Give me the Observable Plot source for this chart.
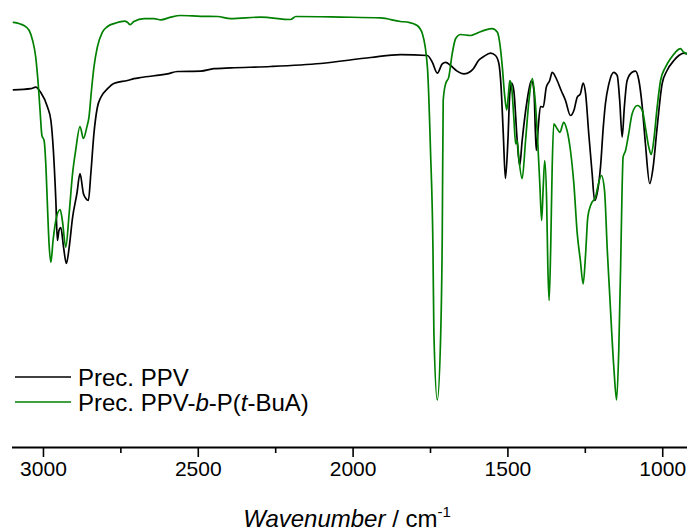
<!DOCTYPE html>
<html><head><meta charset="utf-8">
<script src="https://cdn.jsdelivr.net/npm/d3@7"></script>
<script src="https://cdn.jsdelivr.net/npm/@observablehq/plot@0.6"></script>
<style>body{margin:0;background:#fff}#chart svg{display:block}</style>
</head><body><div id="chart"></div>
<script>
// Series names
const seriesNames = ["Prec. PPV", "Prec. PPV-b-P(t-BuA)"];
// Tick labels
const majorTicks = [3000, 2500, 2000, 1500, 1000];
const minorTicks = [2750, 2250, 1750, 1250];

// Prec. PPV (black): wavenumber (cm-1) and transmittance (arb. units)
const ppvWavenumber = [3097,3041,3025,3009,2987,2976,2968,2960,2955,2950,2944,2935,2926,2917,2906,2892,2882,2871,2863,2855,2847,2837,2826,2815,2793,2773,2729,2708,2686,2600,2567,2492,2450,2395,2266,2105,1943,1847,1760,1744,1728,1712,1701,1685,1664,1642,1621,1611,1595,1578,1556,1540,1529,1522,1515,1508,1500,1494,1488,1481,1470,1462,1454,1438,1424,1416,1411,1408,1402,1395,1386,1376,1365,1357,1341,1328,1314,1298,1287,1276,1266,1257,1249,1239,1228,1220,1212,1201,1192,1185,1174,1158,1147,1139,1131,1124,1115,1099,1088,1077,1066,1056,1042,1031,1018,1002,986,964,948,932,920];
const ppvT = [89.4,89.7,90.1,88.8,85.1,81.75,74.25,61.75,51.75,54.25,55,50,46,50,57.5,63.5,68.5,63.5,62.25,61.75,68.5,78.5,85,87.5,89.7,91,91.75,92.2,92.5,93.4,94,94.1,94.7,94.9,95.25,96,97.5,98.2,98,96.3,93.6,95.9,96.3,95.5,94.1,93.4,94,94.75,96.75,97.75,98.6,98,95.9,90.1,78.5,67.25,76.75,88.4,91.1,89.25,76.75,70.5,76.75,86.75,91.75,89.25,78.5,74.25,80.1,85.25,85.1,90.1,91.75,93.8,91.75,89.25,86.75,83,84.25,87.6,88.4,91.1,88.4,78.5,68.5,61.75,63.5,70.1,80.1,86,90.9,93.8,93,86.75,77.6,85.1,91.75,93.8,94.1,91.75,85.1,76,66,70.1,80.1,90.9,94.25,96.75,98,98.6,98.4];

// Prec. PPV-b-P(t-BuA) (green)
const blockWavenumber = [3097,3063,3046,3035,3025,3017,3011,3005,2998,2992,2987,2982,2976,2969,2960,2946,2939,2928,2917,2906,2896,2882,2871,2860,2853,2845,2837,2826,2810,2793,2767,2738,2729,2720,2708,2675,2643,2621,2589,2557,2492,2438,2395,2298,2202,2185,2040,1911,1847,1820,1793,1776,1760,1750,1742,1739,1728,1717,1712,1709,1701,1691,1680,1669,1653,1621,1599,1572,1551,1534,1526,1518,1511,1504,1499,1494,1488,1481,1475,1470,1465,1454,1443,1432,1421,1413,1405,1397,1391,1386,1381,1375,1371,1367,1362,1357,1352,1341,1332,1320,1309,1298,1287,1276,1266,1257,1249,1242,1231,1217,1210,1198,1188,1179,1172,1158,1149,1142,1136,1132,1128,1120,1110,1099,1082,1066,1056,1045,1037,1029,1018,1007,991,975,959,943,932,920];
const blockT = [106.3,105.5,104.25,101.75,97.6,90.9,84.25,78,76.75,70.1,60.1,51,46.3,51.75,56.75,59.5,56.75,50.1,58.5,68.5,74.25,80.25,77.25,80.1,82.6,89.25,95.1,100.1,103.8,105.25,106.1,106.6,106.3,105.7,106.5,107.2,107.2,106.9,107.6,108,107.8,107.75,107.2,107.6,107,107.75,107.6,107.4,106.5,106.3,105.5,103.4,95.1,74.25,49.25,28.5,11.9,28.5,53.5,86.75,91,92.6,98.4,102.2,103.25,103,103.6,104.4,104.7,103.8,100.9,95.1,88.4,84.4,87.6,91.75,90.1,82.6,75.9,76.75,72.6,67.2,76.75,86.75,92.2,87.6,78.4,65.9,56.75,65.1,71.75,61.75,45.1,36.75,49.25,70.1,80.9,79.7,78.8,81.3,79.25,74.25,65.9,53.4,46.75,40.9,48.5,57.6,60.9,62.6,65.1,68,64.25,49.25,39.25,20.1,11.9,24.25,45.1,61.75,72.6,74.25,78.4,83.4,85.5,84.25,80.1,75.1,73.25,76.75,85.1,91.75,95.1,97.2,98.8,99.7,98.8,98.4];

const ppv = ppvWavenumber.map((w, i) => ({wn: w, t: ppvT[i], series: seriesNames[0]}));
const block = blockWavenumber.map((w, i) => ({wn: w, t: blockT[i], series: seriesNames[1]}));

const W = 687, H = 532;
const FONT = "'Liberation Sans', Arial, Helvetica, sans-serif";

const chart = Plot.plot({
  width: W, height: H,
  marginLeft: 12, marginRight: 0, marginTop: 7, marginBottom: 85,
  style: {fontFamily: FONT, fontSize: "20px", color: "#000", background: "#fff"},
  x: {domain: [3100, 920], axis: null},
  y: {domain: [0, 110], axis: null},
  marks: [
    Plot.line(ppv, {x: "wn", y: "t", stroke: "#000000", strokeWidth: 1.7, curve: "monotone-x"}),
    Plot.line(block, {x: "wn", y: "t", stroke: "#008000", strokeWidth: 1.7, curve: "monotone-x"}),
    Plot.ruleY([0], {stroke: "#000", strokeWidth: 2}),
    Plot.axisX({ticks: majorTicks, tickSize: 10, tickPadding: 4, tickFormat: d => String(d), fontSize: 21, strokeWidth: 1.6, stroke: "#000", label: null}),
    Plot.axisX({ticks: minorTicks, tickSize: 6, tickFormat: () => "", strokeWidth: 1.6, stroke: "#000", label: null})
  ]
});

document.getElementById("chart").appendChild(chart);

// Legend and axis title inside the SVG
const svg = d3.select(chart);
const legendColors = ["#000000", "#008000"];
const lg = svg.append("g").attr("font-family", FONT).attr("font-size", 24).attr("fill", "#000").attr("text-anchor", "start");
[0, 1].forEach(i => {
  const yy = 377 + i * 25;
  lg.append("line").attr("x1", 15).attr("x2", 71).attr("y1", yy).attr("y2", yy)
    .attr("stroke", legendColors[i]).attr("stroke-width", 1.7);
});
lg.append("text").attr("x", 78).attr("y", 386).attr("text-anchor", "start").text(seriesNames[0]);
const t2 = lg.append("text").attr("x", 78).attr("y", 411).attr("text-anchor", "start");
t2.append("tspan").text("Prec. PPV-");
t2.append("tspan").attr("font-style", "italic").text("b");
t2.append("tspan").text("-P(");
t2.append("tspan").attr("font-style", "italic").text("t");
t2.append("tspan").text("-BuA)");

const title = svg.append("text").attr("x", 347).attr("y", 527).attr("text-anchor", "middle")
  .attr("font-family", FONT).attr("font-size", 24).attr("fill", "#000");
title.append("tspan").attr("font-style", "italic").text("Wavenumber");
title.append("tspan").text(" / cm");
title.append("tspan").attr("dy", -10).attr("font-size", 15).text("-1");
</script>
</body></html>
